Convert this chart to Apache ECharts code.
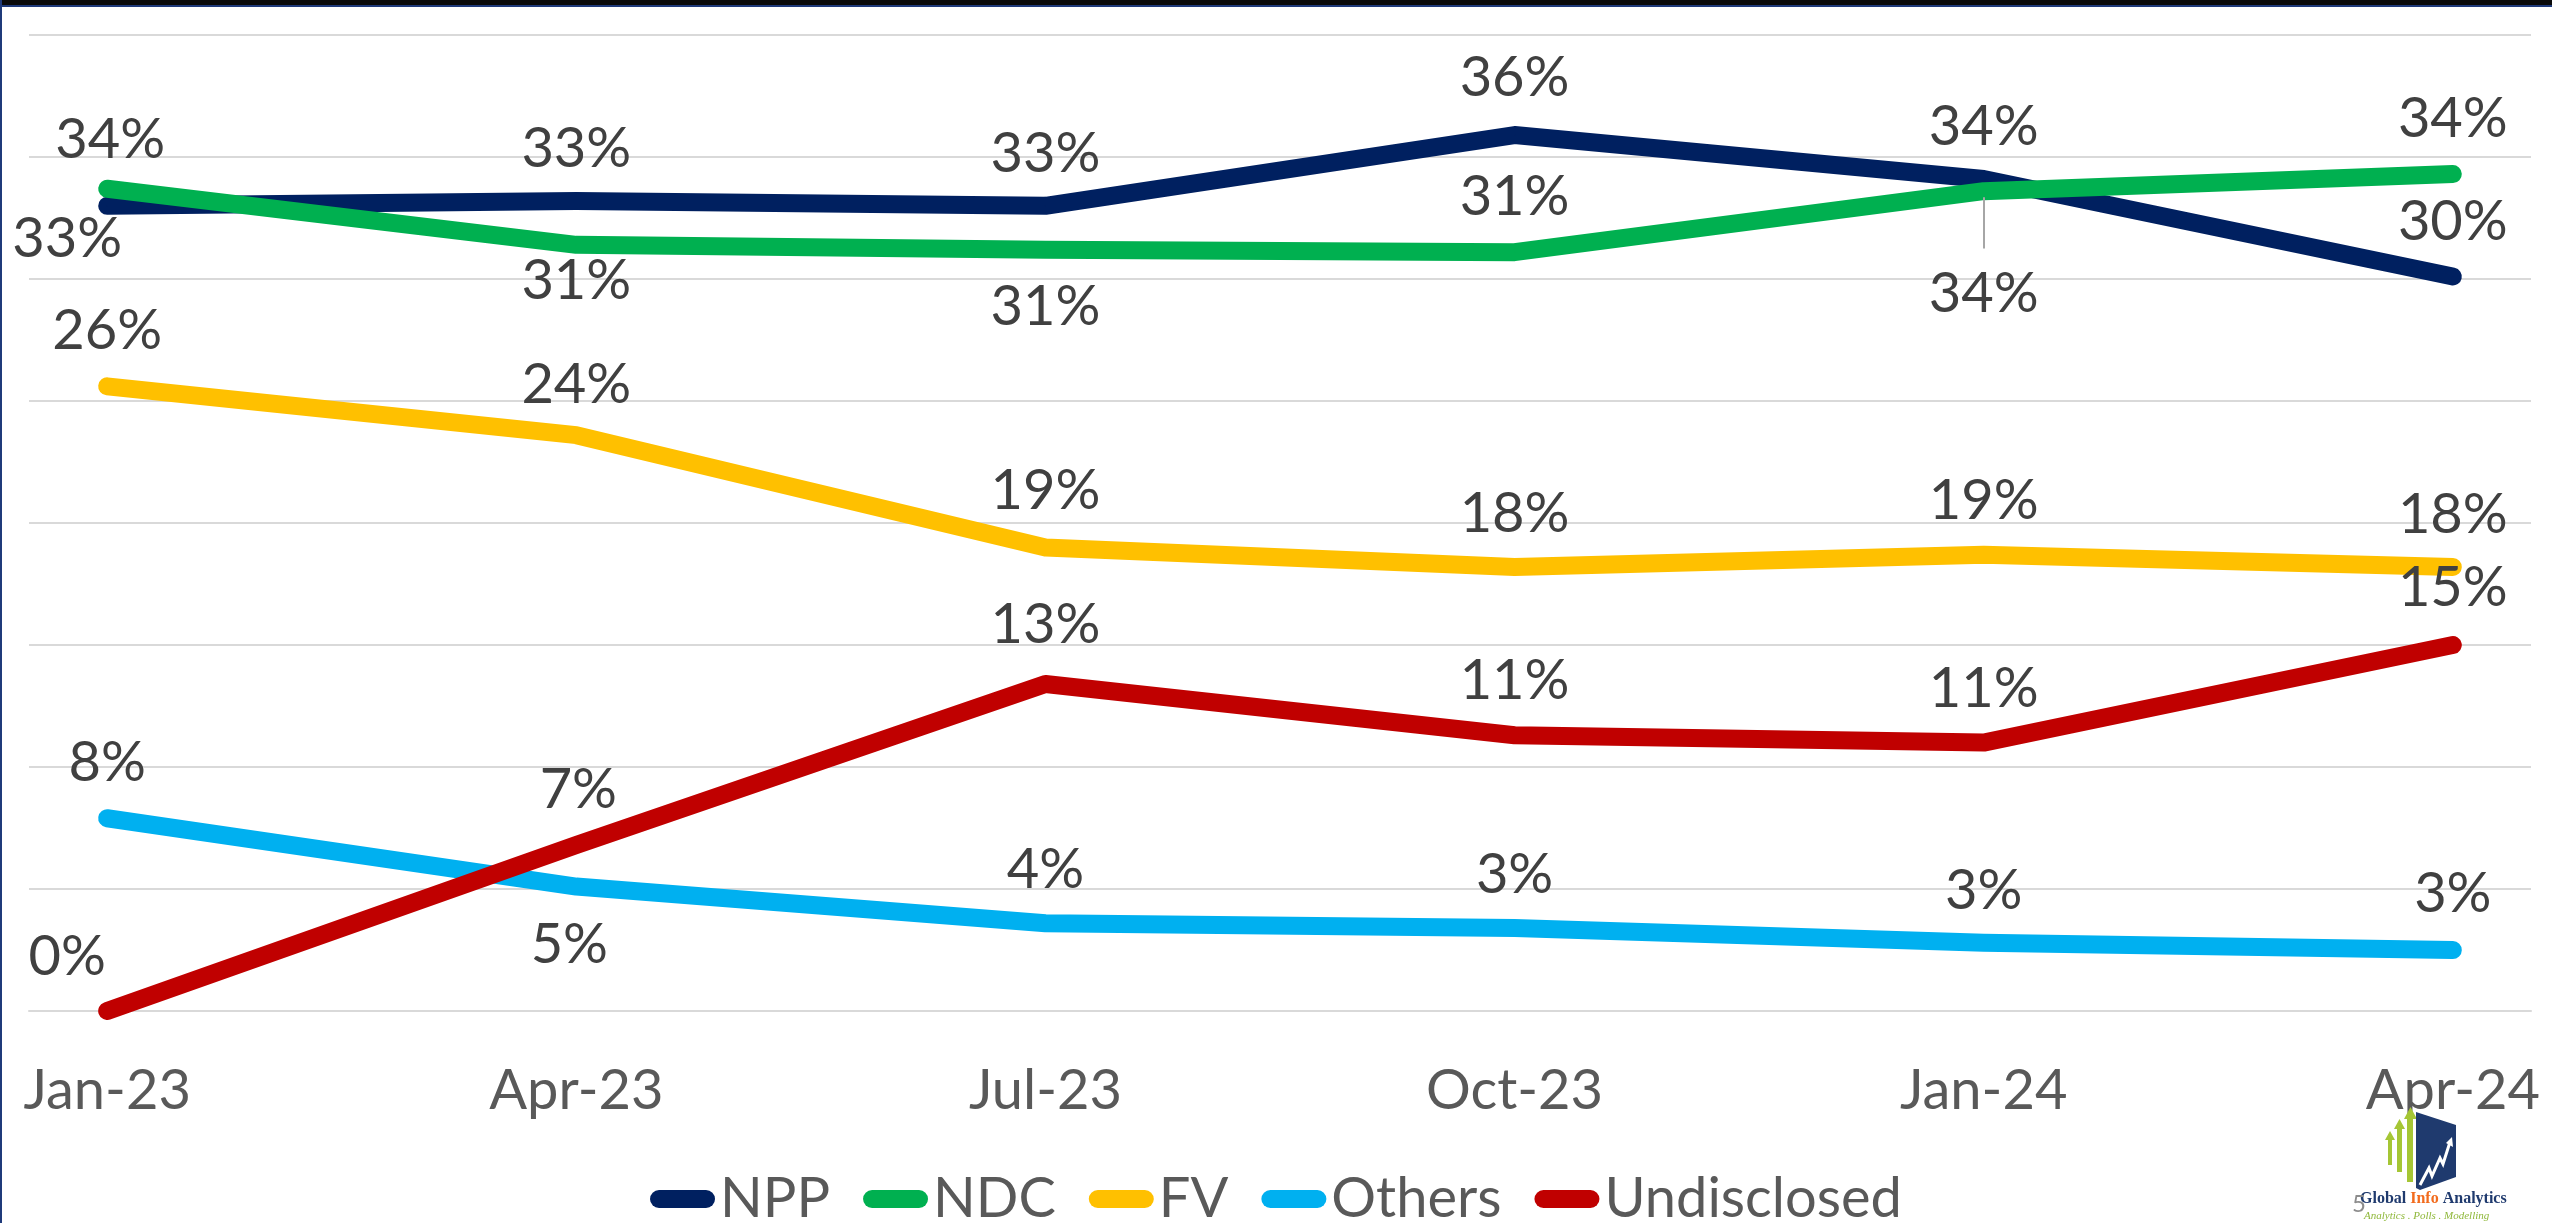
<!DOCTYPE html>
<html>
<head>
<meta charset="utf-8">
<title>Poll trend</title>
<script src="https://cdn.jsdelivr.net/npm/echarts@6.0.0/dist/echarts.min.js"></script>
<style>
  html, body { margin: 0; padding: 0; background: #fff; }
  #chart { width: 2552px; height: 1223px; }
</style>
</head>
<body>
<div id="chart"></div>
<script>
// all months on the axis (labels shown every 3rd month)
var months = ['Jan-23', 'Feb-23', 'Mar-23', 'Apr-23', 'May-23', 'Jun-23', 'Jul-23', 'Aug-23',
              'Sep-23', 'Oct-23', 'Nov-23', 'Dec-23', 'Jan-24', 'Feb-24', 'Mar-24', 'Apr-24'];
// months with a poll
var pollMonths = ['Jan-23', 'Apr-23', 'Jul-23', 'Oct-23', 'Jan-24', 'Apr-24'];

// vote share, %
var npp         = [33.0, 33.2, 33.0, 35.9, 34.1, 30.1];
var ndc         = [33.7, 31.4, 31.2, 31.1, 33.6, 34.3];
var fv          = [25.6, 23.6, 19.0, 18.2, 18.7, 18.2];
var others      = [7.9, 5.1, 3.6, 3.4, 2.8, 2.5];
var undisclosed = [0.0, 6.8, 13.4, 11.3, 11.0, 15.0];

var yTicks = [0, 5, 10, 15, 20, 25, 30, 35, 40];

// label placement (offset of the label centre from the point, px)
var labelOffsets = {
    NPP:         [[-40, 33], [0, -52], [0, -52], [0, -57], [0, -52], [0, -55]],
    NDC:         [[3, -49], [0, 36], [0, 57], [0, -55], [0, 103], [0, -55]],
    FV:          [[0, -55], [0, -50], [0, -56], [0, -53], [0, -54], [0, -52]],
    Others:      [[0, -55], [-7, 58], [0, -53], [0, -53], [0, -52], [0, -56]],
    Undisclosed: [[-40, -54], [2, -55], [0, -59], [0, -54], [0, -54], [0, -57]]
};

var colors = {
    NPP: '#002060',
    NDC: '#00b050',
    FV: '#ffc000',
    Others: '#00b0f0',
    Undisclosed: '#c00000'
};

var FONT = 'Lato, "Open Sans", sans-serif';

function makeSeries(name, values) {
    var data = [];
    for (var i = 0; i < values.length; i++) {
        data.push({
            value: [pollMonths[i], values[i]],
            label: { offset: labelOffsets[name][i] }
        });
    }
    return {
        name: name,
        type: 'line',
        data: data,
        symbol: 'circle',
        symbolSize: 1,
        showSymbol: true,
        itemStyle: { color: colors[name] },
        lineStyle: { color: colors[name], width: 18, cap: 'round', join: 'round' },
        label: {
            show: true,
            position: 'inside',
            align: 'center',
            verticalAlign: 'middle',
            fontFamily: FONT,
            fontSize: 56,
            color: '#404040',
            formatter: function (p) { return Math.round(p.value[1]) + '%'; }
        },
        emphasis: { disabled: true },
        animation: false
    };
}

var series = [
    makeSeries('NPP', npp),
    makeSeries('NDC', ndc),
    makeSeries('FV', fv),
    makeSeries('Others', others),
    makeSeries('Undisclosed', undisclosed)
];

// leader line for the NDC Jan-24 label
series[1].markLine = {
    silent: true,
    symbol: 'none',
    label: { show: false },
    lineStyle: { color: '#a6a6a6', width: 2, type: 'solid' },
    animation: false,
    data: [[{ coord: ['Jan-24', ndc[4] - 0.25] }, { coord: ['Jan-24', ndc[4] - 2.35] }]]
};

var legendIcon = 'path://M9,0 L56,0 A9,9 0 0 1 56,18 L9,18 A9,9 0 0 1 9,0 Z';

var chart = echarts.init(document.getElementById('chart'));
chart.setOption({
    backgroundColor: '#ffffff',
    animation: false,
    textStyle: { fontFamily: FONT },
    grid: { left: 29, right: 21, top: 35, bottom: 212, containLabel: false },
    legend: {
        top: 1166,
        left: 'center',
        itemWidth: 65,
        itemHeight: 18,
        itemGap: 33,
        icon: legendIcon,
        textStyle: { fontFamily: FONT, fontSize: 56, color: '#595959' },
        data: ['NPP', 'NDC', 'FV', 'Others', 'Undisclosed']
    },
    xAxis: {
        type: 'category',
        data: months,
        boundaryGap: true,
        axisLine: { lineStyle: { color: '#d9d9d9', width: 2 } },
        axisTick: { interval: 2, length: 21, lineStyle: { color: '#d9d9d9', width: 2 } },
        axisLabel: {
            interval: 2,
            margin: 52,
            fontFamily: FONT,
            fontSize: 56,
            color: '#595959'
        },
        splitLine: { show: false }
    },
    yAxis: {
        type: 'value',
        min: yTicks[0],
        max: yTicks[yTicks.length - 1],
        interval: yTicks[1] - yTicks[0],
        axisLine: { show: false },
        axisTick: { show: false },
        axisLabel: { show: false },
        splitLine: { lineStyle: { color: '#d9d9d9', width: 2 } }
    },
    series: series,
    graphic: [
        // slide frame
        { type: 'rect', shape: { x: 0, y: 0, width: 2552, height: 5 }, style: { fill: '#0a0a0a' }, z: 100 },
        { type: 'rect', shape: { x: 0, y: 5, width: 2552, height: 2 }, style: { fill: '#1f3a7a' }, z: 100 },
        { type: 'rect', shape: { x: 0, y: 0, width: 2, height: 1223 }, style: { fill: '#1f3a7a' }, z: 100 },
        // logo: arrows
        { type: 'polygon', shape: { points: [[2388, 1165], [2388, 1140], [2385, 1140], [2390, 1131], [2395, 1140], [2392, 1140], [2392, 1165]] }, style: { fill: '#a5c635' }, z: 100 },
        { type: 'polygon', shape: { points: [[2397, 1172], [2397, 1129], [2394, 1129], [2399.5, 1119], [2405, 1129], [2402, 1129], [2402, 1172]] }, style: { fill: '#a5c635' }, z: 100 },
        { type: 'polygon', shape: { points: [[2407, 1182], [2407, 1119], [2404, 1119], [2410.5, 1107], [2417, 1119], [2413, 1119], [2413, 1182]] }, style: { fill: '#a5c635' }, z: 100 },
        // logo: panel with rising line
        { type: 'polygon', shape: { points: [[2416, 1112], [2456, 1125], [2456, 1177], [2420, 1190], [2416, 1188]] }, style: { fill: '#1f3a6e' }, z: 100 },
        { type: 'polyline', shape: { points: [[2420, 1185], [2429, 1168], [2432, 1176], [2440, 1158], [2443, 1164], [2450, 1142]] }, style: { stroke: '#ffffff', lineWidth: 3, fill: null }, z: 101 },
        { type: 'polygon', shape: { points: [[2446, 1143], [2452, 1137], [2453, 1147]] }, style: { fill: '#ffffff' }, z: 101 },
        // logo: text
        {
            type: 'text', left: 2360, top: 1191, z: 100,
            style: {
                text: '{a|Global }{b|Info}{a| Analytics}',
                rich: {
                    a: { fontFamily: '"Liberation Serif", serif', fontWeight: 'bold', fontSize: 16, fill: '#1f3a6e' },
                    b: { fontFamily: '"Liberation Serif", serif', fontWeight: 'bold', fontSize: 16, fill: '#f26b1d' }
                }
            }
        },
        {
            type: 'text', left: 2364, top: 1211, z: 100,
            style: { text: 'Analytics . Polls . Modelling', fontFamily: '"Liberation Serif", serif', fontStyle: 'italic', fontSize: 11, fill: '#8fb83a' }
        },
        {
            type: 'text', left: 2352, top: 1192, z: 101,
            style: { text: '5', fontFamily: FONT, fontSize: 24, fill: '#8c8c8c' }
        }
    ]
});
</script>
</body>
</html>
